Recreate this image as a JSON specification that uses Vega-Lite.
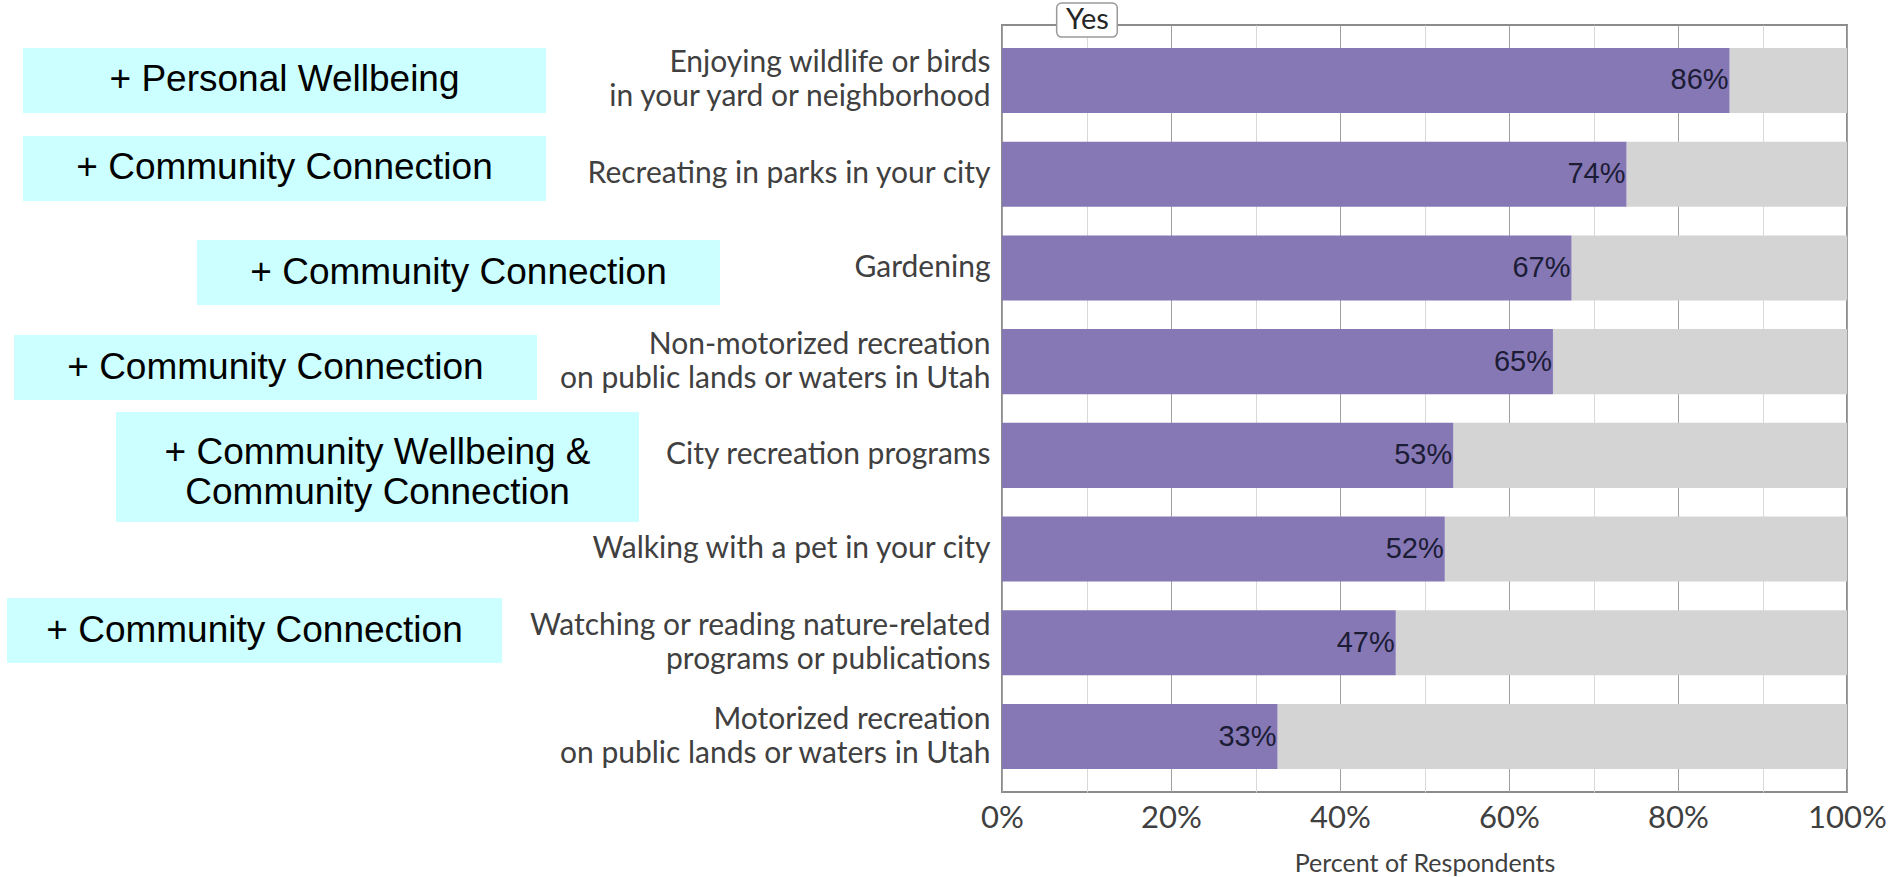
{
  "$schema": "https://vega.github.io/schema/vega-lite/v6.json",
  "width": 845,
  "height": 767,
  "autosize": {"type": "none"},
  "padding": {"left": 1002, "top": 25, "right": 42, "bottom": 85},
  "background": "white",
  "config": {"view": {"stroke": "#8c8c8c", "strokeWidth": 2}, "font": "Lato"},
  "datasets": {
    "bars": [
      {"activity": "Enjoying wildlife or birds|in your yard or neighborhood", "pct": 0.861},
      {"activity": "Recreating in parks in your city", "pct": 0.739},
      {"activity": "Gardening", "pct": 0.674},
      {"activity": "Non-motorized recreation|on public lands or waters in Utah", "pct": 0.652},
      {"activity": "City recreation programs", "pct": 0.534},
      {"activity": "Walking with a pet in your city", "pct": 0.524},
      {"activity": "Watching or reading nature-related|programs or publications", "pct": 0.466},
      {"activity": "Motorized recreation|on public lands or waters in Utah", "pct": 0.326}
    ],
    "notes": [
      {"label": "+ Personal Wellbeing", "x1": -1.1586, "x2": -0.5396, "y1": -0.347, "y2": 0.347, "xc": -0.8491, "yc": 0.0},
      {"label": "+ Community Connection", "x1": -1.1586, "x2": -0.5396, "y1": 0.592, "y2": 1.286, "xc": -0.8491, "yc": 0.939},
      {"label": "+ Community Connection", "x1": -0.9527, "x2": -0.3337, "y1": 1.702, "y2": 2.396, "xc": -0.6432, "yc": 2.049},
      {"label": "+ Community Connection", "x1": -1.1692, "x2": -0.5503, "y1": 2.716, "y2": 3.41, "xc": -0.8598, "yc": 3.063},
      {"label": ["+ Community Wellbeing &", "Community Connection"], "x1": -1.0485, "x2": -0.4296, "y1": 3.538, "y2": 4.712, "xc": -0.739, "yc": 3.97},
      {"label": "+ Community Connection", "x1": -1.1775, "x2": -0.5917, "y1": 5.523, "y2": 6.216, "xc": -0.8846, "yc": 5.87}
    ],
    "key": [
      {"label": "Yes", "x1": 0.0647, "x2": 0.1364, "y1": -0.826, "y2": -0.463, "xc": 0.1012, "yc": -0.645}
    ]
  },
  "layer": [
    {
      "data": {"name": "bars"},
      "layer": [
        {
          "mark": {"type": "bar", "color": "#d4d4d4"},
          "encoding": {
            "x": {
              "field": "pct", "type": "quantitative",
              "scale": {"domain": [0, 1], "nice": false, "zero": false},
              "axis": {
                "values": [0, 0.1, 0.2, 0.3, 0.4, 0.5, 0.6, 0.7, 0.8, 0.9, 1],
                "grid": true,
                "gridColor": {"condition": {"test": "round(datum.value*10) % 2 == 0", "value": "#a0a0a0"}, "value": "#d9d9d9"},
                "gridWidth": 1,
                "ticks": false,
                "domain": false,
                "labelExpr": "(round(datum.value*10) % 2 == 0) ? format(datum.value, '.0%') : ''",
                "labelFont": "Lato",
                "labelFontSize": 31,
                "labelColor": "#404040",
                "labelPadding": 11,
                "labelFlush": false,
                "labelOverlap": false,
                "title": "Percent of Respondents",
                "titleFont": "Lato",
                "titleFontSize": 25,
                "titleFontWeight": "normal",
                "titleColor": "#404040",
                "titlePadding": 18
              }
            },
            "x2": {"datum": 1},
            "y": {
              "field": "activity", "type": "nominal", "sort": null,
              "scale": {"paddingInner": 0.306, "paddingOuter": 0.245},
              "axis": {
                "title": null,
                "labelExpr": "split(datum.label, '|')",
                "labelFont": "Lato",
                "labelFontSize": 30,
                "labelColor": "#404040",
                "labelLineHeight": 34,
                "labelOffset": {"condition": {"test": "indexof(datum.label, '|') >= 0", "value": -17}, "value": 0},
                "labelPadding": 12,
                "labelLimit": 700,
                "ticks": false,
                "domain": false
              }
            }
          }
        },
        {
          "mark": {"type": "bar", "color": "#8678b5"},
          "encoding": {
            "x": {"field": "pct", "type": "quantitative", "scale": {"domain": [0, 1], "nice": false, "zero": false}},
            "x2": {"datum": 0},
            "y": {"field": "activity", "type": "nominal", "sort": null}
          }
        },
        {
          "mark": {"type": "text", "align": "right", "baseline": "middle", "dx": -1, "font": "Liberation Sans", "fontSize": 29, "color": "#1c1c35"},
          "encoding": {
            "x": {"field": "pct", "type": "quantitative", "scale": {"domain": [0, 1], "nice": false, "zero": false}},
            "y": {"field": "activity", "type": "nominal", "sort": null},
            "text": {"field": "pct", "type": "quantitative", "format": ".0%"}
          }
        }
      ]
    },
    {
      "data": {"name": "notes"},
      "layer": [
        {
          "mark": {"type": "rect", "color": "#ccffff"},
          "encoding": {
            "x": {"field": "x1", "type": "quantitative", "scale": {"domain": [0, 1], "nice": false, "zero": false}},
            "x2": {"field": "x2"},
            "y": {"field": "y1", "type": "quantitative", "scale": {"domain": [-0.592, 7.592], "reverse": true, "nice": false, "zero": false}, "axis": null},
            "y2": {"field": "y2"}
          }
        },
        {
          "mark": {"type": "text", "align": "center", "baseline": "middle", "font": "Liberation Sans", "fontSize": 37, "lineHeight": 40, "color": "#000000"},
          "encoding": {
            "x": {"field": "xc", "type": "quantitative", "scale": {"domain": [0, 1], "nice": false, "zero": false}},
            "y": {"field": "yc", "type": "quantitative", "scale": {"domain": [-0.592, 7.592], "reverse": true, "nice": false, "zero": false}, "axis": null},
            "text": {"field": "label", "type": "nominal"}
          }
        }
      ]
    },
    {
      "data": {"name": "key"},
      "layer": [
        {
          "mark": {"type": "rect", "fill": "#ffffff", "stroke": "#9a9a9a", "strokeWidth": 1.5, "cornerRadius": 5},
          "encoding": {
            "x": {"field": "x1", "type": "quantitative", "scale": {"domain": [0, 1], "nice": false, "zero": false}},
            "x2": {"field": "x2"},
            "y": {"field": "y1", "type": "quantitative", "scale": {"domain": [-0.592, 7.592], "reverse": true, "nice": false, "zero": false}, "axis": null},
            "y2": {"field": "y2"}
          }
        },
        {
          "mark": {"type": "text", "align": "center", "baseline": "middle", "font": "Lato", "fontSize": 29, "color": "#262626"},
          "encoding": {
            "x": {"field": "xc", "type": "quantitative", "scale": {"domain": [0, 1], "nice": false, "zero": false}},
            "y": {"field": "yc", "type": "quantitative", "scale": {"domain": [-0.592, 7.592], "reverse": true, "nice": false, "zero": false}, "axis": null},
            "text": {"field": "label", "type": "nominal"}
          }
        }
      ]
    }
  ],
  "resolve": {"scale": {"y": "independent"}, "axis": {"y": "independent"}}
}
